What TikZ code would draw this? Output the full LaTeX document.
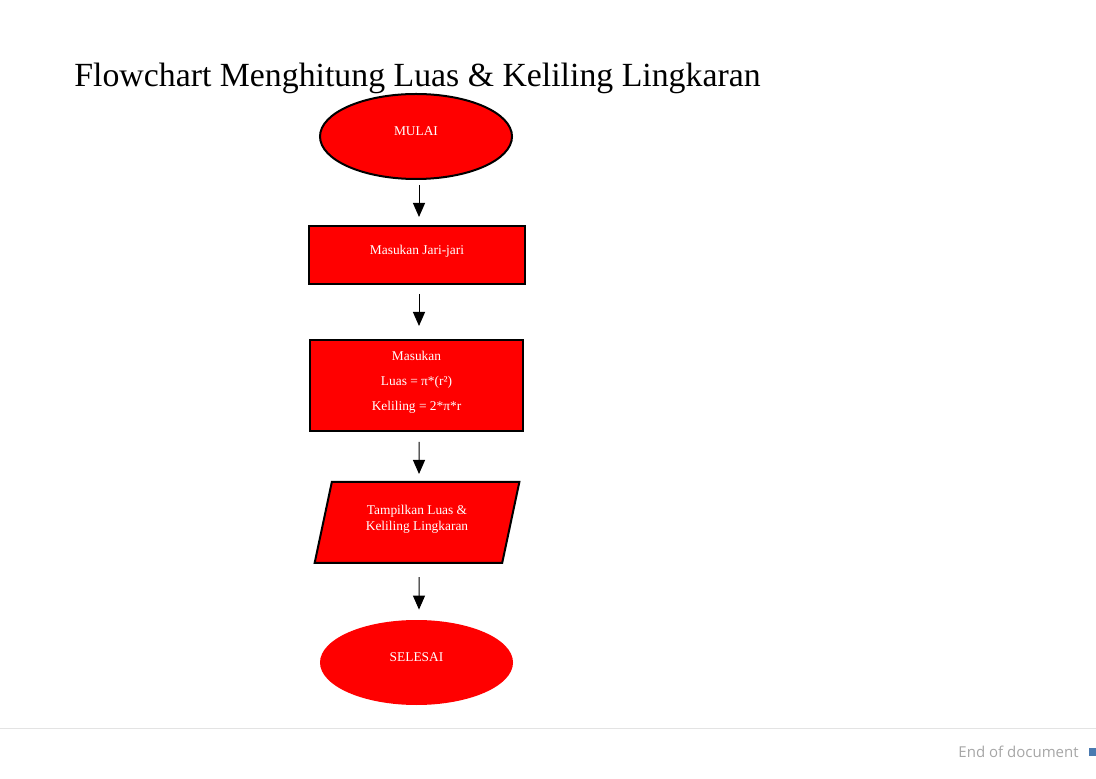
\documentclass[tikz,border=0pt]{standalone}
\usepackage{fontspec}
\setmainfont{Liberation Serif}
\newfontfamily\footfont{Open Sans}
\usetikzlibrary{shapes}
\usetikzlibrary{shapes.geometric}
\usetikzlibrary{arrows.meta}

\begin{document}
\begin{tikzpicture}[x=0.5pt,y=-0.5pt]
    \definecolor{flowred}{RGB}{255,0,0}
    \definecolor{footgray}{RGB}{166,166,166}
    \definecolor{footblue}{RGB}{74,122,176}
    \tikzstyle{flow}=[fill=flowred, text=white, font=\fontsize{6.7}{8}\selectfont, align=center, text depth=5pt]
    \tikzstyle{framed}=[draw, line width=1pt]
    \tikzstyle{arrow}=[-{Triangle[width=6pt,length=7pt]}, line width=0.5pt]

    \useasboundingbox (0,0) rectangle (1096,779);

    % title
    \node (title) [anchor=base west, inner sep=0, font=\fontsize{16.9}{20}\selectfont] at (74,87) {Flowchart Menghitung Luas \& Keliling Lingkaran};

    % nodes
    \node (mulai) [ellipse, flow, framed, minimum width=96pt, minimum height=42.5pt] at (416,136.5) {MULAI};
    \node (jari) [rectangle, flow, framed, minimum width=108pt, minimum height=29pt] at (417,255) {Masukan Jari-jari};
    \node (hitung) [rectangle, flow, framed, minimum width=106.5pt, minimum height=45.5pt, font=\fontsize{6.7}{12.5}\selectfont] at (416.5,385.5) {Masukan\\Luas = π*(r²)\\Keliling = 2*π*r};
    \node (tampil) [trapezium, trapezium left angle=76.5, trapezium right angle=103.5, trapezium stretches=true, flow, framed, minimum width=103pt, minimum height=40.5pt] at (417,522.5) {Tampilkan Luas \&\\Keliling Lingkaran};
    \node (selesai) [ellipse, flow, minimum width=96.5pt, minimum height=42.5pt] at (416.5,662.5) {SELESAI};

    % arrows
    \draw[arrow, shorten <=2.5pt, shorten >=4pt] ([xshift=1.5pt]mulai.south) -- ([xshift=1pt]jari.north);
    \draw[arrow, shorten <=4.5pt, shorten >=6.5pt] ([xshift=1pt]jari.south) -- ([xshift=1.25pt]hitung.north);
    \draw[arrow, shorten <=5pt, shorten >=3.5pt] ([xshift=1.25pt]hitung.south) -- ([xshift=1pt]tampil.north);
    \draw[arrow, shorten <=6.5pt, shorten >=5pt] ([xshift=1pt]tampil.south) -- ([xshift=1.25pt]selesai.north);

    % footer
    \coordinate (footl) at (0,728);
    \coordinate (footr) at (1096,728);
    \draw[gray!22, line width=0.5pt] (footl) -- (footr);
    \node (eod) [anchor=base east, inner sep=0, text=footgray, font=\footfont\fontsize{7.5}{9}\selectfont] at (1079,757) {End of document};
    \fill[footblue] (1089,748) rectangle (1096,756);
\end{tikzpicture}
\end{document}
